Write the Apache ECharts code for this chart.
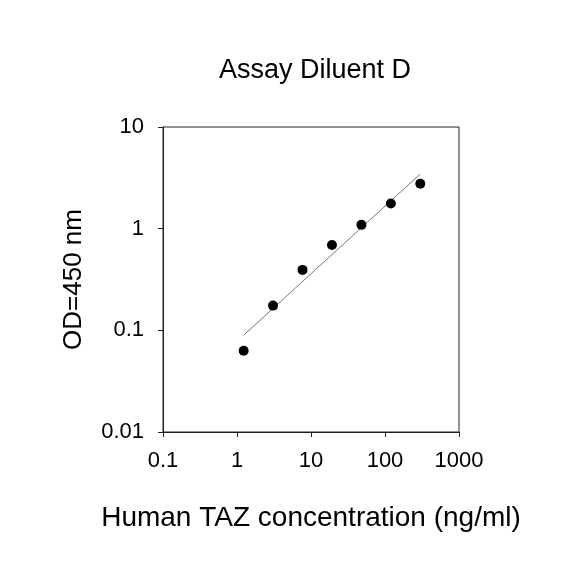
<!DOCTYPE html>
<html>
<head>
<meta charset="utf-8">
<script src="https://cdn.jsdelivr.net/npm/echarts@6/dist/echarts.min.js"></script>
<style>
  html, body { margin: 0; padding: 0; background: #fff; }
  #chart { width: 584px; height: 584px; }
</style>
</head>
<body>
<div id="chart"></div>
<script>
// measured points (2.5-fold dilution series)
const concentration = [1.23, 3.07, 7.68, 19.2, 48, 120, 300];
const od450 = [0.063, 0.175, 0.393, 0.69, 1.09, 1.77, 2.77];

// fitted line end points
const fitX = [1.23, 300];
const fitY = [0.0895, 3.45];

const xTickLabels = ['0.1', '1', '10', '100', '1000'];
const yTickLabels = ['0.01', '0.1', '1', '10'];

const font = 'Liberation Sans, Arial, sans-serif';

const pickLabel = (labels, value) => {
  const hit = labels.find((t) => Math.abs(Math.log10(parseFloat(t)) - Math.log10(value)) < 1e-6);
  return hit || '';
};

const chart = echarts.init(document.getElementById('chart'));
chart.setOption({
  animation: false,
  backgroundColor: '#fff',
  title: {
    text: 'Assay Diluent D',
    left: 310,
    textAlign: 'center',
    top: 52,
    textStyle: { fontFamily: font, fontSize: 27, fontWeight: 'normal', color: '#000' }
  },
  grid: {
    left: 163, right: 125, top: 127, bottom: 152,
    show: true, borderColor: '#222', borderWidth: 1, backgroundColor: 'transparent'
  },
  xAxis: {
    type: 'log',
    logBase: 10,
    min: 0.1,
    max: 1000,
    name: 'Human TAZ concentration (ng/ml)',
    nameLocation: 'middle',
    nameGap: 72,
    nameTextStyle: { fontFamily: font, fontSize: 28, color: '#000' },
    axisLine: { lineStyle: { color: '#222', width: 1 } },
    axisTick: { show: true, length: 5, inside: false, lineStyle: { color: '#222' } },
    minorTick: { show: false },
    splitLine: { show: false },
    axisLabel: {
      fontFamily: font, fontSize: 22, color: '#000', margin: 18,
      formatter: (v) => pickLabel(xTickLabels, v)
    }
  },
  yAxis: {
    type: 'log',
    logBase: 10,
    min: 0.01,
    max: 10,
    name: 'OD=450 nm',
    nameLocation: 'middle',
    nameGap: 76,
    nameTextStyle: { fontFamily: font, fontSize: 26, color: '#000' },
    axisLine: { lineStyle: { color: '#222', width: 1 } },
    axisTick: { show: true, length: 5, inside: false, lineStyle: { color: '#222' } },
    minorTick: { show: false },
    splitLine: { show: false },
    axisLabel: {
      fontFamily: font, fontSize: 22, color: '#000', margin: 19,
      formatter: (v) => pickLabel(yTickLabels, v)
    }
  },
  series: [
    {
      type: 'line',
      data: fitX.map((x, i) => [x, fitY[i]]),
      showSymbol: false,
      symbol: 'none',
      lineStyle: { color: '#777', width: 1 },
      silent: true,
      z: 1
    },
    {
      type: 'scatter',
      data: concentration.map((x, i) => [x, od450[i]]),
      symbol: 'circle',
      symbolSize: 10,
      itemStyle: { color: '#000', opacity: 1 },
      z: 2
    }
  ]
});
</script>
</body>
</html>
